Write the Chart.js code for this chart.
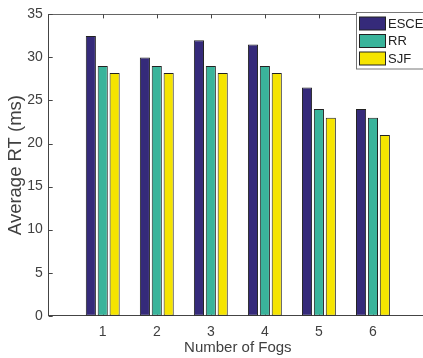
<!DOCTYPE html>
<html>
<head>
<meta charset="utf-8">
<script src="https://cdn.jsdelivr.net/npm/chart.js@4/dist/chart.umd.min.js"></script>
<style>
  html, body { margin: 0; padding: 0; background: #fff; overflow: hidden; }
  #wrap { width: 423px; height: 358px; overflow: hidden; }
  canvas { display: block; }
</style>
</head>
<body>
<div id="wrap"><canvas id="c" width="440" height="358"></canvas></div>
<script>
// Number of fog nodes on the x axis
const fogs = [1, 2, 3, 4, 5, 6];
// Average response time (ms) per scheduler
const esce = [32.5, 30, 32, 31.5, 26.5, 24];
const rr   = [29, 29, 29, 29, 24, 23];
const sjf  = [28.2, 28.2, 28.2, 28.2, 23, 21];
const seriesNames = ['ESCE', 'RR', 'SJF'];
const seriesColors = ['#352a7a', '#3ab49b', '#f5e400'];
const yTicks = [0, 5, 10, 15, 20, 25, 30, 35];
const xRange = [0, 7];

const FONT = 'Liberation Sans, Arial, Helvetica, sans-serif';
const AXIS = '#444444';
const TEXT = '#404040';

function points(vals) { return fogs.map((f, i) => ({ x: f, y: vals[i] })); }

const datasets = [esce, rr, sjf].map((vals, k) => ({
  label: seriesNames[k],
  data: points(vals),
  backgroundColor: seriesColors[k],
  borderColor: '#222222',
  borderWidth: 1,
  borderSkipped: false,
  categoryPercentage: 0.66,
  barPercentage: 0.85
}));

// Inward tick marks and top box edge, MATLAB-style
const boxTicks = {
  id: 'boxTicks',
  beforeDatasetsDraw(chart) {
    const { ctx, chartArea: a, scales: { x } } = chart;
    ctx.save();
    ctx.strokeStyle = AXIS; ctx.lineWidth = 1;
    fogs.forEach(f => {
      const px = Math.round(x.getPixelForValue(f)) + 0.5;
      ctx.beginPath(); ctx.moveTo(px, a.bottom); ctx.lineTo(px, a.bottom - 4); ctx.stroke();
    });
    ctx.restore();
  },
  afterDraw(chart) {
    const { ctx, chartArea: a, scales: { x, y } } = chart;
    ctx.save();
    ctx.strokeStyle = '#666666'; ctx.lineWidth = 1;
    const top = Math.round(a.top) + 0.5;
    ctx.beginPath(); ctx.moveTo(a.left, top); ctx.lineTo(a.right, top); ctx.stroke();
    ctx.strokeStyle = AXIS;
    fogs.forEach(f => {
      const px = Math.round(x.getPixelForValue(f)) + 0.5;
      ctx.beginPath(); ctx.moveTo(px, a.top); ctx.lineTo(px, a.top + 4); ctx.stroke();
    });
    yTicks.forEach(v => {
      const py = Math.round(y.getPixelForValue(v)) + 0.5;
      ctx.beginPath(); ctx.moveTo(a.left, py); ctx.lineTo(a.left + 4, py); ctx.stroke();
    });
    ctx.restore();
  }
};

// Legend box in the upper-right corner of the plot
const boxLegend = {
  id: 'boxLegend',
  afterDraw(chart) {
    const { ctx } = chart;
    const bx = 356.5, by = 12.5, bw = 80, bh = 56.5;
    ctx.save();
    ctx.fillStyle = '#ffffff';
    ctx.fillRect(bx, by, bw, bh);
    ctx.strokeStyle = '#777777'; ctx.lineWidth = 1;
    ctx.strokeRect(bx, by, bw, bh);
    ctx.font = '13px ' + FONT;
    ctx.textBaseline = 'middle';
    chart.data.datasets.forEach((ds, i) => {
      const cy = 23.5 + i * 17.5;
      ctx.fillStyle = ds.backgroundColor;
      ctx.fillRect(359.5, cy - 6.5, 26, 13);
      ctx.strokeStyle = '#222222';
      ctx.strokeRect(359.5, cy - 6.5, 26, 13);
      ctx.fillStyle = '#222222';
      ctx.fillText(ds.label, 388, cy + 0.5);
    });
    ctx.restore();
  }
};

new Chart(document.getElementById('c'), {
  type: 'bar',
  data: { datasets },
  options: {
    responsive: false,
    animation: false,
    layout: { padding: { top: 10, right: 13, left: 0, bottom: 0 } },
    plugins: { legend: { display: false }, tooltip: { enabled: false } },
    scales: {
      x: {
        type: 'linear',
        min: xRange[0], max: xRange[1],
        offset: false,
        grid: { display: false, drawTicks: false },
        border: { display: true, color: AXIS, width: 1 },
        ticks: {
          stepSize: 1,
          padding: 8,
          color: TEXT,
          font: { family: FONT, size: 14 },
          callback: v => (fogs.includes(v) ? String(v) : '')
        },
        title: {
          display: true, text: 'Number of Fogs', color: TEXT,
          font: { family: FONT, size: 15 }, padding: { top: 2, bottom: 1 }
        },
        afterFit(s) { s.height = 42.3; }
      },
      y: {
        min: 0, max: 35,
        grid: { display: false, drawTicks: false },
        border: { display: true, color: AXIS, width: 1 },
        afterBuildTicks(s) { s.ticks = yTicks.map(v => ({ value: v })); },
        ticks: {
          padding: 6,
          color: TEXT,
          font: { family: FONT, size: 14 }
        },
        title: {
          display: true, text: 'Average RT (ms)', color: TEXT,
          font: { family: FONT, size: 18.5 }, padding: { top: 5, bottom: 0 }
        },
        afterFit(s) { s.width = 48.7; }
      }
    }
  },
  plugins: [boxTicks, boxLegend]
});
</script>
</body>
</html>
